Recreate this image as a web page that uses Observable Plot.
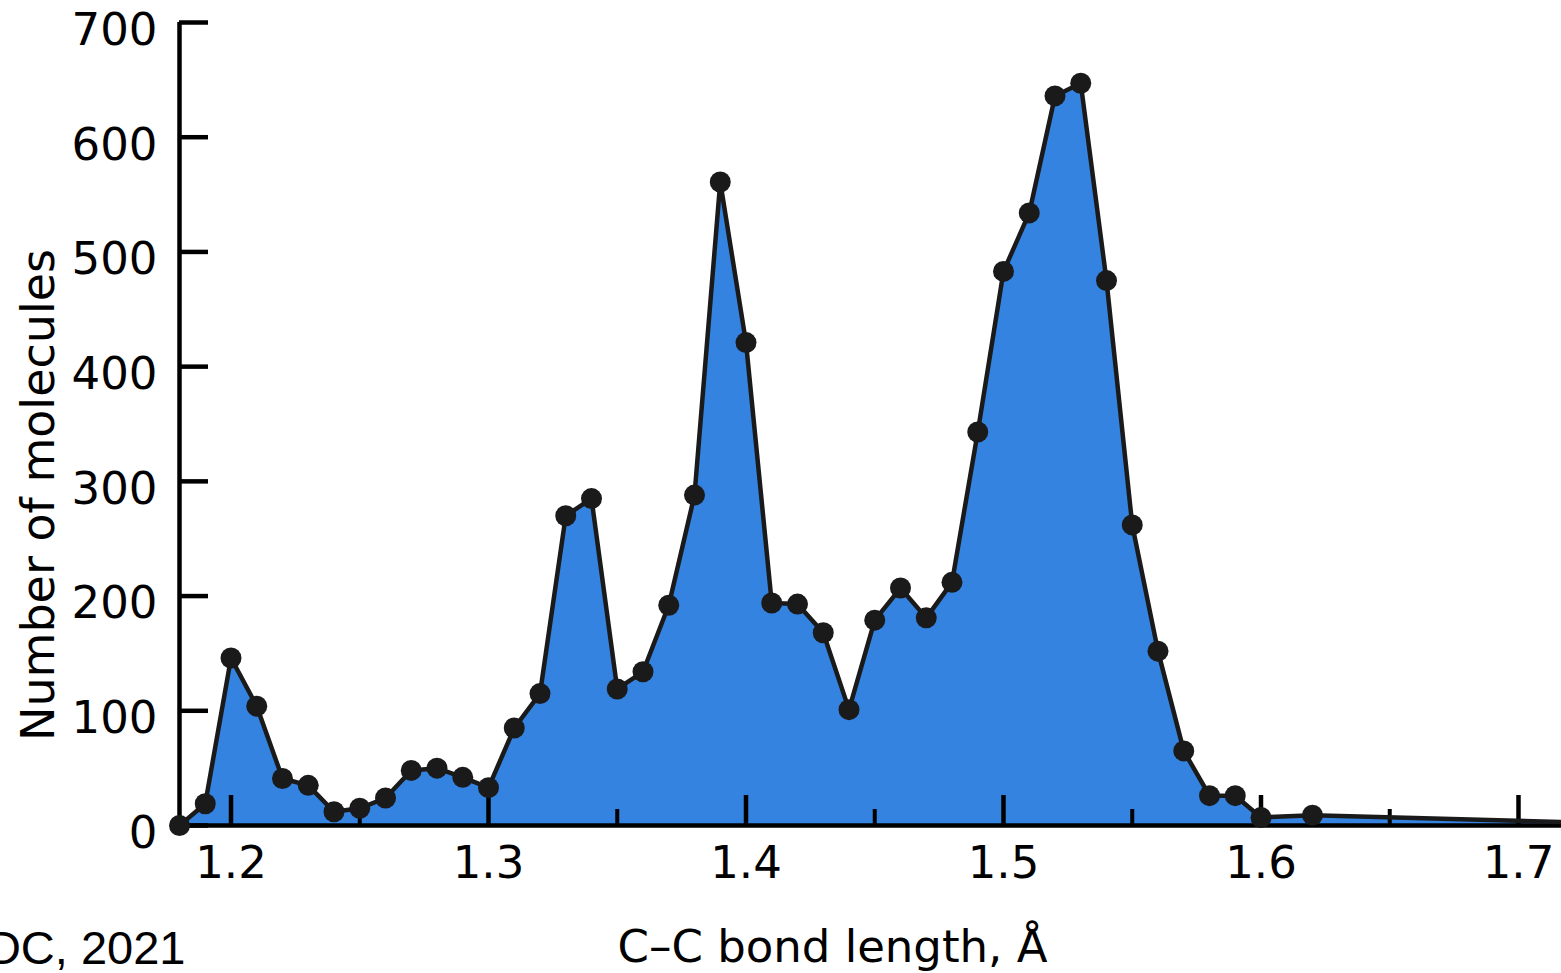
<!DOCTYPE html>
<html>
<head>
<meta charset="utf-8">
<script src="https://cdn.jsdelivr.net/npm/d3@7"></script>
<script src="https://cdn.jsdelivr.net/npm/@observablehq/plot@0.6"></script>
<style>
  html, body { margin: 0; padding: 0; background: white; overflow: hidden; }
</style>
</head>
<body>
<div id="chart"></div>
<script>
// Data
const bondLength = [1.18, 1.19, 1.20, 1.21, 1.22, 1.23, 1.24, 1.25, 1.26, 1.27, 1.28, 1.29, 1.30,
  1.31, 1.32, 1.33, 1.34, 1.35, 1.36, 1.37, 1.38, 1.39, 1.40, 1.41, 1.42, 1.43, 1.44, 1.45, 1.46,
  1.47, 1.48, 1.49, 1.50, 1.51, 1.52, 1.53, 1.54, 1.55, 1.56, 1.57, 1.58, 1.59, 1.60, 1.62, 1.75];
const molecules = [0, 19, 146, 104, 41, 35, 12, 15, 24, 48, 50, 42, 33,
  85, 115, 270, 285, 119, 134, 192, 288, 561, 421, 194, 193, 168, 101, 179, 207,
  181, 212, 343, 483, 534, 636, 647, 475, 262, 152, 65, 26, 26, 7, 9, 1];

const xMajorTicks = [1.2, 1.3, 1.4, 1.5, 1.6, 1.7];
const xMinorTicks = [1.25, 1.35, 1.45, 1.55, 1.65];
const yTicks = [0, 100, 200, 300, 400, 500, 600, 700];
const xDomain = [1.18, 1.7167];
const yDomain = [0, 700];

const xLabel = "C\u2013C bond length, \u00C5";
const yLabel = "Number of molecules";
const credit = "CCDC, 2021";

const data = bondLength.map((x, i) => ({x, y: molecules[i]}));

const W = 1561, H = 973;
const mL = 179, mT = 22, mB = 148, mR = 0;
const frameH = H - mT - mB;
const frameW = W - mL - mR;

const ink = "#1a1a1a";
const blue = "#3583e0";
const font = "DejaVu Sans";
const fs = 45;

const chart = Plot.plot({
  width: W,
  height: H,
  marginLeft: mL,
  marginTop: mT,
  marginBottom: mB,
  marginRight: mR,
  style: {fontFamily: font, background: "white", overflow: "visible"},
  x: {domain: xDomain, axis: null},
  y: {domain: yDomain, axis: null},
  marks: [
    Plot.areaY(data, {x: "x", y: "y", fill: blue, clip: true}),
    // spines
    Plot.ruleY([yDomain[0]], {y: d => d, stroke: "black", strokeWidth: 4.5}),
    Plot.ruleX([xDomain[0]], {x: d => d, stroke: "black", strokeWidth: 4.5}),
    // inward ticks
    Plot.tickY(yTicks, {y: d => d, stroke: "black", strokeWidth: 4.5, insetRight: frameW - 29}),
    Plot.tickX(xMajorTicks, {x: d => d, stroke: "black", strokeWidth: 4.5, insetTop: frameH - 30}),
    Plot.tickX(xMinorTicks, {x: d => d, stroke: "black", strokeWidth: 4, insetTop: frameH - 16}),
    // series
    Plot.lineY(data, {x: "x", y: "y", stroke: ink, strokeWidth: 4.5, clip: true}),
    Plot.dot(data, {x: "x", y: "y", r: 10.5, fill: ink, stroke: null}),
    // tick labels
    Plot.text(xMajorTicks, {x: d => d, frameAnchor: "bottom", dy: 52, text: d => d.toFixed(1),
      fontSize: fs, fill: "black", textAnchor: "middle"}),
    Plot.text(yTicks, {y: d => d, frameAnchor: "left", dx: -22, dy: 8, text: d => String(d),
      fontSize: fs, fill: "black", textAnchor: "end"}),
    // axis labels
    Plot.text([xLabel], {frameAnchor: "bottom-left", dx: 653, dy: 136, text: d => d,
      textAnchor: "middle", lineAnchor: "bottom", fontSize: fs, fill: "black"}),
    Plot.text([yLabel], {frameAnchor: "left", dx: -126, dy: 71, rotate: -90, text: d => d,
      textAnchor: "middle", lineAnchor: "bottom", fontSize: 46, fill: "black"}),
    // credit (cut at the left edge, as in the reference)
    Plot.text([credit], {frameAnchor: "bottom-left", dx: 6, dy: 138, text: d => d,
      textAnchor: "end", lineAnchor: "bottom", fontSize: 47, fontFamily: "Liberation Sans", fill: "black"})
  ]
});
document.getElementById("chart").appendChild(chart);
</script>
</body>
</html>
